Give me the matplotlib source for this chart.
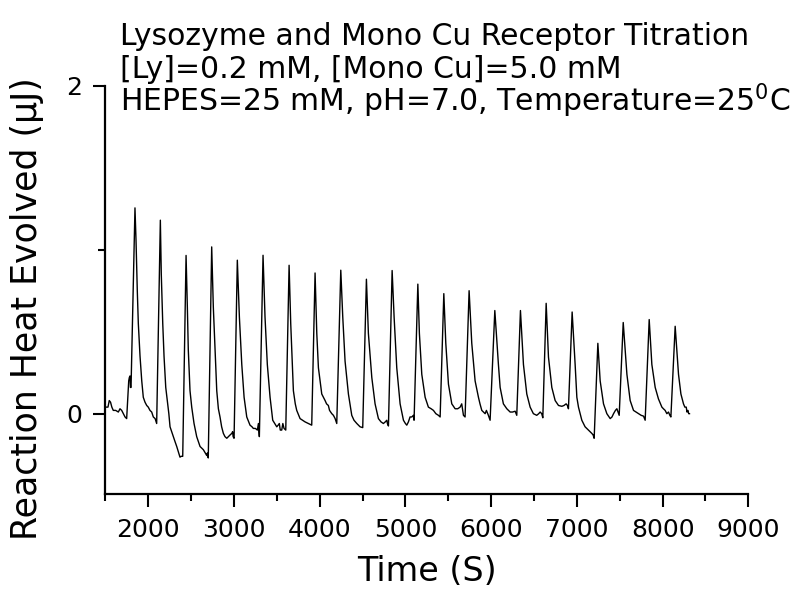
import matplotlib
matplotlib.use("Agg")
import matplotlib.pyplot as plt
from matplotlib.ticker import MultipleLocator, FixedLocator

plt.rcParams['font.family'] = ['DejaVu Sans']
plt.rcParams['mathtext.fontset'] = 'dejavusans'

# raw ITC trace (time in s, heat in uJ)
tempo = [1515, 1530, 1545, 1560, 1575, 1592, 1620, 1651, 1670, 1690, 1710, 1729, 1748,
         1760, 1772, 1779, 1787, 1792, 1799,
         1845, 1857, 1872, 1884, 1904, 1924, 1942, 1962, 1982, 2000, 2020, 2040, 2059, 2080, 2098,
         2141, 2152, 2169, 2184, 2204, 2227, 2240, 2254, 2273, 2292, 2312, 2332, 2350, 2370, 2385, 2402,
         2441, 2456, 2467, 2487, 2507, 2534, 2565, 2604, 2643, 2665, 2682, 2690, 2700,
         2740, 2759, 2779, 2799, 2818, 2837, 2856, 2876, 2895, 2916, 2935, 2954, 2975, 2984, 2990, 3001,
         3039, 3063, 3091, 3118, 3149, 3187, 3210, 3226, 3250, 3273, 3285, 3296,
         3339, 3362, 3389, 3421, 3452, 3475, 3499, 3515, 3529, 3540, 3557, 3570, 3584, 3604,
         3643, 3662, 3693, 3715, 3732, 3771, 3829, 3888, 3907,
         3946, 3966, 3985, 4024, 4063, 4080, 4101, 4115, 4141, 4160, 4180, 4199,
         4246, 4269, 4296, 4335, 4374, 4400, 4433, 4471, 4502,
         4545, 4568, 4608, 4646, 4685, 4715, 4743, 4765, 4783, 4790, 4802,
         4845, 4868, 4899, 4938, 4977, 5000, 5016, 5035, 5054, 5075, 5093, 5101,
         5145, 5163, 5191, 5230, 5268, 5300, 5327, 5355, 5385, 5405,
         5448, 5471, 5502, 5541, 5580, 5610, 5638, 5657, 5668, 5677, 5696,
         5743, 5774, 5813, 5852, 5870, 5891, 5910, 5930, 5945, 5968, 5988,
         6043, 6085, 6105, 6143, 6183, 6222, 6250, 6280, 6299,
         6342, 6377, 6416, 6455, 6493, 6532, 6555, 6572, 6590, 6603,
         6642, 6669, 6708, 6747, 6786, 6825, 6850, 6875, 6890, 6902,
         6945, 6980, 7000, 7019, 7058, 7096, 7135, 7174, 7190, 7202,
         7245, 7272, 7311, 7350, 7389, 7410, 7428, 7450, 7467, 7494,
         7541, 7584, 7622, 7661, 7690, 7719, 7750, 7778, 7797,
         7844, 7875, 7914, 7952, 7992, 8010, 8030, 8050, 8069, 8085, 8097,
         8147, 8186, 8214, 8244, 8260, 8276, 8285, 8295, 8305, 8314]

calor = [0.04, 0.04, 0.08, 0.07, 0.04, 0.02, 0.02, 0.01, 0.03, 0.02, 0.0, -0.02, -0.03,
         0.08, 0.20, 0.22, 0.23, 0.16, 0.16,
         1.255, 1.06, 0.75, 0.55, 0.35, 0.20, 0.10, 0.07, 0.05, 0.04, 0.02, 0.01, -0.02, -0.03, -0.06,
         1.18, 0.85, 0.55, 0.35, 0.16, 0.06, 0.0, -0.08, -0.11, -0.14, -0.17, -0.20, -0.23, -0.265, -0.26, -0.26,
         0.965, 0.65, 0.39, 0.14, 0.04, -0.06, -0.14, -0.20, -0.22, -0.24, -0.255, -0.24, -0.27,
         1.017, 0.65, 0.39, 0.14, 0.03, -0.02, -0.08, -0.12, -0.14, -0.15, -0.14, -0.13, -0.12, -0.11, -0.14, -0.15,
         0.936, 0.59, 0.30, 0.10, -0.02, -0.07, -0.08, -0.09, -0.09, -0.10, -0.06, -0.14,
         0.966, 0.59, 0.30, 0.10, -0.04, -0.06, -0.08, -0.07, -0.06, -0.10, -0.10, -0.06, -0.09, -0.10,
         0.905, 0.55, 0.14, 0.06, 0.02, -0.03, -0.05, -0.065, -0.07,
         0.858, 0.49, 0.28, 0.12, 0.08, 0.06, 0.05, 0.02, 0.0, -0.01, -0.03, -0.06,
         0.875, 0.59, 0.32, 0.12, -0.01, -0.04, -0.06, -0.08, -0.085,
         0.82, 0.49, 0.22, 0.06, -0.03, -0.05, -0.06, -0.05, -0.04, -0.06, -0.075,
         0.873, 0.59, 0.28, 0.06, -0.04, -0.06, -0.07, -0.05, -0.02, -0.02, -0.01, -0.04,
         0.79, 0.49, 0.24, 0.10, 0.04, 0.03, 0.02, 0.0, -0.01, -0.02,
         0.732, 0.43, 0.18, 0.06, 0.03, 0.03, 0.04, 0.06, 0.02, -0.01, -0.02,
         0.75, 0.43, 0.20, 0.10, 0.06, 0.02, 0.01, 0.0, 0.02, -0.01, -0.04,
         0.629, 0.30, 0.16, 0.06, 0.03, 0.01, 0.01, 0.015, -0.01,
         0.629, 0.30, 0.12, 0.04, 0.0, -0.01, 0.0, 0.01, 0.0, -0.025,
         0.673, 0.345, 0.16, 0.08, 0.05, 0.045, 0.05, 0.06, 0.05, 0.03,
         0.62, 0.30, 0.10, 0.04, -0.04, -0.08, -0.10, -0.12, -0.13, -0.15,
         0.429, 0.20, 0.06, 0.0, -0.03, -0.02, 0.0, 0.02, 0.03, -0.01,
         0.556, 0.24, 0.08, 0.02, 0.01, 0.0, -0.01, -0.015, -0.04,
         0.574, 0.30, 0.16, 0.09, 0.04, 0.03, 0.02, 0.0, 0.01, -0.01, -0.02,
         0.533, 0.24, 0.12, 0.06, 0.04, 0.04, 0.01, 0.02, 0.0, 0.0]

ticks_x = [2000, 3000, 4000, 5000, 6000, 7000, 8000, 9000]
ticks_y = [0, 2]

titulo = ["Lysozyme and Mono Cu Receptor Titration",
          "[Ly]=0.2 mM, [Mono Cu]=5.0 mM",
          r"HEPES=25 mM, pH=7.0, Temperature=25$^{0}$C"]

fig = plt.figure(figsize=(8.04, 5.92), dpi=100)
ax = fig.add_axes([0.1311, 0.1655, 0.7996, 0.6897])

ax.plot(tempo, calor, color='black', linewidth=1.0)

ax.set_xlim(1500, 9000)
ax.set_ylim(-0.49, 2.0)

ax.spines['top'].set_visible(False)
ax.spines['right'].set_visible(False)
ax.spines['left'].set_linewidth(1.6)
ax.spines['bottom'].set_linewidth(1.6)

ax.xaxis.set_major_locator(FixedLocator(ticks_x))
ax.xaxis.set_minor_locator(MultipleLocator(500))
ax.yaxis.set_major_locator(FixedLocator(ticks_y))
ax.yaxis.set_minor_locator(FixedLocator([1]))

ax.tick_params(which='major', direction='out', length=9, width=1.5, labelsize=18)
ax.tick_params(which='minor', direction='out', length=5, width=1.5)
ax.tick_params(axis='x', pad=8)
ax.tick_params(axis='y', pad=8)

ax.set_xlabel("Time (S)", fontsize=24)
ax.set_ylabel("Reaction Heat Evolved (μJ)", fontsize=25)
ax.xaxis.set_label_coords(0.5, -0.15)
ax.yaxis.set_label_coords(-0.095, 0.455)

ys = [0.924, 0.868, 0.811]
for linha, y in zip(titulo, ys):
    fig.text(0.149, y, linha, fontsize=21.5, va='baseline', ha='left')

plt.savefig("out.png", dpi=100)
